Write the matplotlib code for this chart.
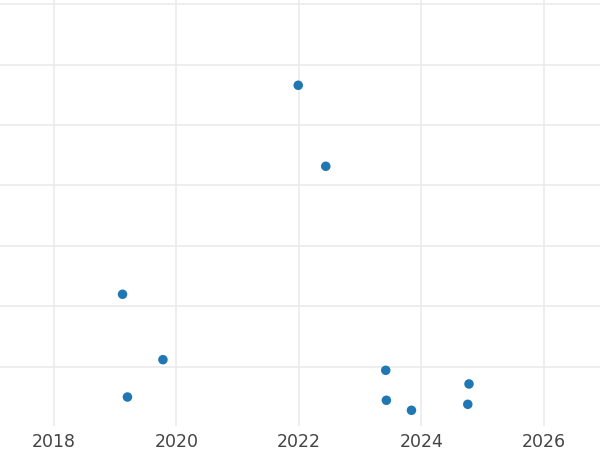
import matplotlib
matplotlib.use("Agg")
import matplotlib.pyplot as plt

years = [2021.99, 2022.44, 2019.12, 2019.78, 2019.20, 2023.42, 2023.43, 2023.84, 2024.78, 2024.76]
values = [56.59, 43.18, 21.99, 11.16, 4.98, 9.40, 4.44, 2.78, 7.14, 3.77]
x_ticks = [2018, 2020, 2022, 2024, 2026]
x_tick_labels = ["2018", "2020", "2022", "2024", "2026"]
y_ticks = [10, 20, 30, 40, 50, 60, 70]

fig = plt.figure(figsize=(6, 4.5), dpi=100)
ax = fig.add_axes([0, 24/450, 1, 1 - 24/450])
ax.scatter(years, values, s=47, color="#1f77b4", edgecolors="none", zorder=3)
ax.set_xlim(2017.118, 2026.92)
ax.set_ylim(0.18, 70.71)
ax.set_xticks(x_ticks)
ax.set_xticklabels(x_tick_labels)
ax.set_yticks(y_ticks)
ax.set_yticklabels([])
ax.grid(True, color="#ebebeb", linewidth=1.2)
ax.set_axisbelow(True)
for s in ax.spines.values():
    s.set_visible(False)
ax.tick_params(axis="both", length=0, pad=5, labelsize=12.5, labelcolor="#444444")
ax.tick_params(axis="y", left=False, labelleft=False)
fig.savefig("out.png", dpi=100)
